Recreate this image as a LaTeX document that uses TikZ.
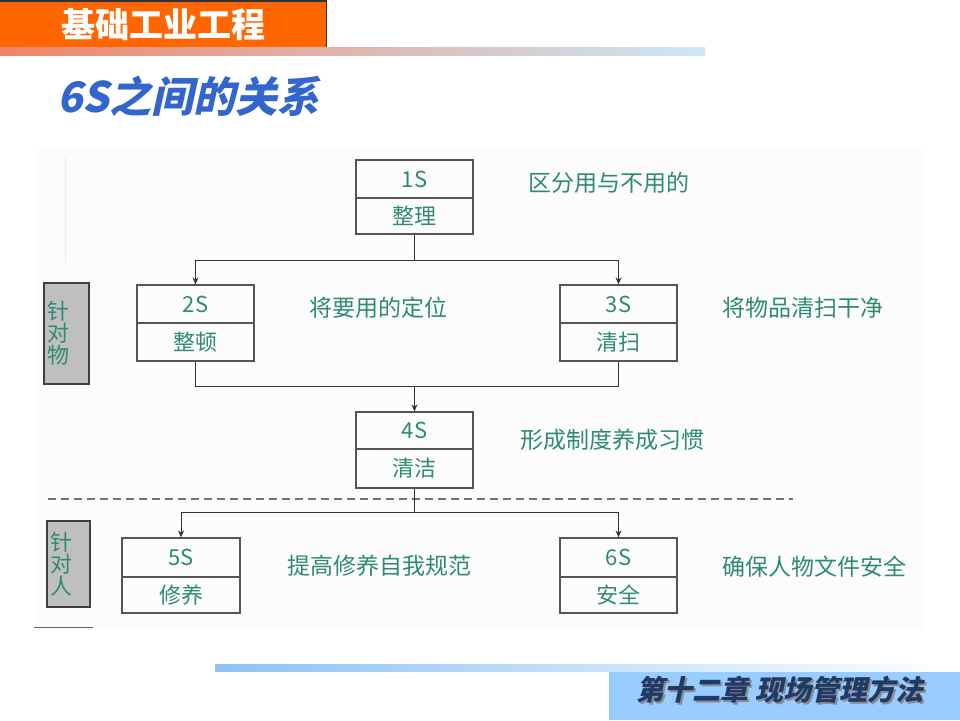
\documentclass[tikz,border=0pt]{standalone}
\usepackage{fontspec}
\usetikzlibrary{arrows.meta}
\newfontfamily\cjk{Noto Sans CJK SC}
\newfontfamily\cjksl{Noto Sans CJK SC}[FakeSlant=0.22]
\definecolor{teal6}{RGB}{46,139,115}
\definecolor{orng}{HTML}{FF6600}
\definecolor{gradl}{HTML}{F08468}
\definecolor{gradm}{HTML}{E2C6D2}
\definecolor{gradr}{HTML}{CCE8F8}
\definecolor{titleblue}{HTML}{3366CC}
\definecolor{navy}{HTML}{1F3A68}
\definecolor{footblue}{HTML}{99CCFF}
\definecolor{footbar}{HTML}{8EC2F5}
\definecolor{boxgray}{HTML}{555555}
\tikzset{
  half/.style={draw=boxgray, line width=1.3pt, minimum width=117pt, inner sep=0pt,
    text=teal6, font=\cjk\fontsize{22}{24}\selectfont},
  desc/.style={anchor=west, inner sep=0pt, text=teal6, font=\cjk\fontsize{23}{25}\selectfont},
  side/.style={draw=black!75, line width=1.3pt, fill=black!25, minimum width=45pt,
    inner xsep=3pt, text width=39pt, align=left, text=teal6,
    font=\cjk\fontsize{22}{24}\selectfont},
  conn/.style={draw=black!80, line width=1pt},
  arr/.style={conn, -{Stealth[length=7pt,width=6pt]}}
}
\begin{document}
\begin{tikzpicture}[x=1pt,y=-1pt]
\useasboundingbox (0,0) rectangle (960,720);
% diagram background
\fill[black!1] (35,150) rectangle (925,630);
% header
\fill[orng] (0,0) rectangle (327,47);
\draw[draw=black!80, line width=1.5pt] (0,0.75) -- (326.25,0.75) -- (326.25,47);
\node[text=white, font=\cjk\bfseries\fontsize{34}{36}\selectfont, inner sep=0pt] (hdr) at (163.5,25) {基础工业工程};
\shade[left color=gradl, middle color=gradm, right color=gradr] (0,47) rectangle (705,55);
% title
\node[anchor=west, text=titleblue, font=\cjksl\bfseries\fontsize{42}{46}\selectfont, inner sep=0pt] (ttl) at (57,96) {6S之间的关系};
% footer
\shade[left color=footbar, right color=white] (215,664) rectangle (960,671);
\fill[footblue] (609,672) rectangle (960,720);
\node[text=black!45, font=\cjksl\bfseries\fontsize{28}{30}\selectfont, inner sep=0pt] (ftsh) at (782,692) {第十二章 现场管理方法};
\node[text=navy, font=\cjksl\bfseries\fontsize{28}{30}\selectfont, inner sep=0pt] (ft) at (780,690) {第十二章 现场管理方法};
% faint marks
\draw[black!8, line width=1pt] (65,157) -- (65,263);
% boxes
\node[half, minimum height=38pt] (s1t) at (414.5,179) {1S};
\node[half, minimum height=36pt] (s1b) at (414.5,216) {整理};
\node[half, minimum height=38pt] (s2t) at (195.5,304) {2S};
\node[half, minimum height=38pt] (s2b) at (195.5,342) {整顿};
\node[half, minimum height=38pt] (s3t) at (618.5,304) {3S};
\node[half, minimum height=38pt] (s3b) at (618.5,342) {清扫};
\node[half, minimum height=37pt] (s4t) at (414.5,430.5) {4S};
\node[half, minimum height=39pt] (s4b) at (414.5,468.5) {清洁};
\node[half, minimum height=39pt, minimum width=118pt] (s5t) at (181,557.5) {5S};
\node[half, minimum height=36pt, minimum width=118pt] (s5b) at (181,595) {修养};
\node[half, minimum height=39pt] (s6t) at (618.5,557.5) {6S};
\node[half, minimum height=36pt] (s6b) at (618.5,595) {安全};
% descriptions
\node[desc] (d1) at (528,183) {区分用与不用的};
\node[desc] (d2) at (309,308) {将要用的定位};
\node[desc] (d3) at (722,308) {将物品清扫干净};
\node[desc] (d4) at (520,440) {形成制度养成习惯};
\node[desc] (d5) at (287,566) {提高修养自我规范};
\node[desc] (d6) at (722,567) {确保人物文件安全};
% side labels
\node[side, minimum height=101pt] (lw) at (66.5,333.5) {针\\[-2pt]对\\[-2pt]物};
\node[side, minimum height=86pt, minimum width=43pt, text width=37pt] (lr) at (68.5,564) {针\\[-2pt]对\\[-2pt]人};
\coordinate (u1) at (34,627);
\coordinate (u2) at (93,627);
\draw[black!60, line width=1pt] (u1) -- (u2);
% dashed separator
\coordinate (da) at (48,499);
\coordinate (db) at (793,499);
\draw[black!55, line width=1.2pt, dash pattern=on 8pt off 5pt] (da) -- (db);
% connectors
\coordinate (j1) at (414.5,260);
\coordinate (j2) at (414.5,386);
\coordinate (j3) at (414.5,512);
\draw[conn] (s1b.south) -- (j1);
\draw[arr] (j1) -| (s2t.north);
\draw[arr] (j1) -| (s3t.north);
\draw[conn] (s2b.south) |- (j2);
\draw[conn] (s3b.south) |- (j2);
\draw[arr] (j2) -- (s4t.north);
\draw[conn] (s4b.south) -- (j3);
\draw[arr] (j3) -| (s5t.north);
\draw[arr] (j3) -| (s6t.north);
\end{tikzpicture}
\end{document}
